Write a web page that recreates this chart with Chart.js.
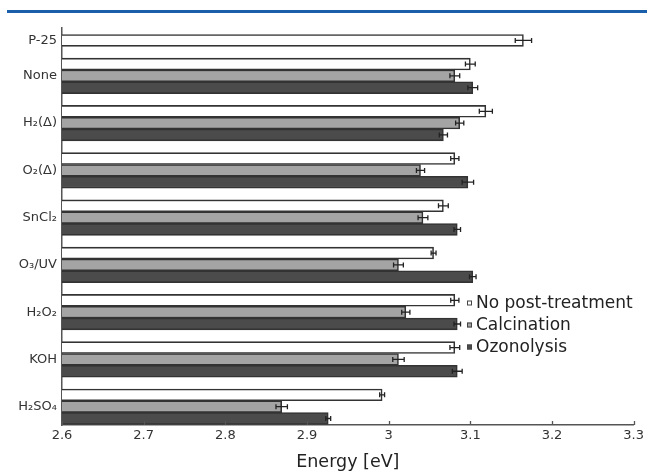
<!DOCTYPE html>
<html><head><meta charset="utf-8">
<script src="https://cdn.jsdelivr.net/npm/chart.js@4.4.0/dist/chart.umd.min.js"></script>
<style>
html,body{margin:0;padding:0;background:#fff;}
#wrap{position:relative;width:647px;height:473px;overflow:hidden;}
#rule{position:absolute;left:7px;top:10px;width:640px;height:3px;background:#1b5ea9;}
#c{position:absolute;left:0;top:0;}
</style></head><body>
<div id="wrap"><div id="rule"></div><canvas id="c" width="647" height="473"></canvas></div>
<script>
// ---- data ----
const categories = ['P-25','None','H₂(Δ)','O₂(Δ)','SnCl₂','O₃/UV','H₂O₂','KOH','H₂SO₄'];
const seriesNames = ['No post-treatment','Calcination','Ozonolysis'];
const noPostTreatment = [3.165, 3.100, 3.119, 3.081, 3.067, 3.055, 3.081, 3.081, 2.992];
const calcination     = [null,  3.081, 3.087, 3.039, 3.042, 3.012, 3.021, 3.012, 2.869];
const ozonolysis      = [null,  3.103, 3.067, 3.097, 3.084, 3.103, 3.084, 3.084, 2.926];
const noPostErr       = [0.010, 0.006, 0.008, 0.005, 0.006, 0.003, 0.005, 0.006, 0.003];
const calcinationErr  = [null,  0.006, 0.005, 0.005, 0.006, 0.006, 0.005, 0.007, 0.007];
const ozonolysisErr   = [null,  0.006, 0.005, 0.007, 0.004, 0.004, 0.004, 0.006, 0.003];
const xTickValues = [2.6, 2.7, 2.8, 2.9, 3.0, 3.1, 3.2, 3.3];
const xTitle = 'Energy [eV]';

// ---- build rows (one row per bar, blank row between groups) ----
const seriesValues = [noPostTreatment, calcination, ozonolysis];
const seriesErrors = [noPostErr, calcinationErr, ozonolysisErr];
const fills = ['#ffffff', '#a4a4a4', '#4b4b4b'];
const rowsData = seriesValues.map(() => []);
const labelAt = {};
let row = 0;
categories.forEach((cat, i) => {
  const present = [];
  seriesValues.forEach((vals, s) => {
    if (vals[i] != null) {
      rowsData[s].push({x: vals[i], y: row, err: seriesErrors[s][i]});
      present.push(row);
      row++;
    }
  });
  labelAt[(present[0] + present[present.length - 1]) / 2] = cat;
  row++;
});
const lastRow = row - 2;

const errorBars = {
  id: 'errorBars',
  afterDatasetsDraw(chart) {
    const ctx = chart.ctx, xs = chart.scales.x;
    ctx.save();
    ctx.strokeStyle = '#222';
    ctx.lineWidth = 1.3;
    chart.data.datasets.forEach((ds, di) => {
      const meta = chart.getDatasetMeta(di);
      meta.data.forEach((el, j) => {
        const d = ds.data[j];
        const y = el.y;
        const x1 = xs.getPixelForValue(d.x - d.err), x2 = xs.getPixelForValue(d.x + d.err);
        ctx.beginPath();
        ctx.moveTo(x1, y); ctx.lineTo(x2, y);
        ctx.moveTo(x1, y - 2.5); ctx.lineTo(x1, y + 2.5);
        ctx.moveTo(x2, y - 2.5); ctx.lineTo(x2, y + 2.5);
        ctx.stroke();
      });
    });
    ctx.restore();
  }
};

const innerTicks = {
  id: 'innerTicks',
  afterDraw(chart) {
    const ctx = chart.ctx, xs = chart.scales.x, b = chart.chartArea.bottom;
    ctx.save();
    ctx.strokeStyle = '#555';
    ctx.lineWidth = 1.3;
    xTickValues.forEach(v => {
      const px = Math.round(xs.getPixelForValue(v)) + 0.5;
      ctx.beginPath(); ctx.moveTo(px, b); ctx.lineTo(px, b - 4); ctx.stroke();
    });
    ctx.restore();
  }
};

const boxLegend = {
  id: 'boxLegend',
  afterDraw(chart, args, opts) {
    const ctx = chart.ctx;
    ctx.save();
    ctx.font = '17px "DejaVu Sans"';
    ctx.textBaseline = 'middle';
    chart.data.datasets.forEach((ds, i) => {
      const y = opts.top + i * opts.gap;
      ctx.fillStyle = ds.backgroundColor;
      ctx.strokeStyle = '#444';
      ctx.lineWidth = 1;
      ctx.fillRect(opts.left, y - 2.5, 5, 5);
      ctx.strokeRect(opts.left + 0.5, y - 2.5 + 0.5, 4, 4);
      ctx.fillStyle = '#222';
      ctx.fillText(ds.label, opts.left + 9, y + 1);
    });
    ctx.restore();
  }
};

new Chart(document.getElementById('c'), {
  type: 'bar',
  data: {
    datasets: seriesNames.map((name, s) => ({
      label: name,
      data: rowsData[s],
      backgroundColor: fills[s],
      borderColor: '#333',
      borderWidth: 1.6,
      grouped: false,
      barPercentage: 1,
      categoryPercentage: 1
    }))
  },
  options: {
    indexAxis: 'y',
    responsive: false,
    animation: false,
    layout: {padding: {top: 28, right: 12, left: 0, bottom: 0}},
    plugins: {
      legend: {display: false},
      tooltip: {enabled: false},
      boxLegend: {left: 467, top: 303, gap: 22}
    },
    scales: {
      x: {
        type: 'linear',
        min: 2.6, max: 3.3,
        afterBuildTicks: s => { s.ticks = xTickValues.map(v => ({value: v})); },
        afterFit: s => { s.height = 48; },
        grid: {display: true, drawOnChartArea: false, drawTicks: false},
        border: {display: true, color: '#555', width: 1.5},
        ticks: {
          padding: 3,
          color: '#333',
          font: {family: 'DejaVu Sans', size: 13},
          callback: v => (Math.round(v * 10) / 10).toString()
        },
        title: {
          display: true, text: xTitle, color: '#222',
          font: {family: 'DejaVu Sans', size: 17.5},
          padding: {top: 7, bottom: 0}
        }
      },
      y: {
        type: 'linear',
        reverse: true,
        offset: false,
        min: -1.05, max: lastRow + 0.55,
        afterBuildTicks: s => { s.ticks = Object.keys(labelAt).map(v => ({value: +v})); },
        afterFit: s => { s.width = 62; },
        grid: {display: false, drawTicks: false},
        border: {display: true, color: '#555', width: 1.5},
        ticks: {
          autoSkip: false,
          padding: 5,
          color: '#333',
          font: {family: 'DejaVu Sans', size: 13},
          callback: v => labelAt[v]
        }
      }
    }
  },
  plugins: [errorBars, innerTicks, boxLegend]
});
</script>
</body></html>
